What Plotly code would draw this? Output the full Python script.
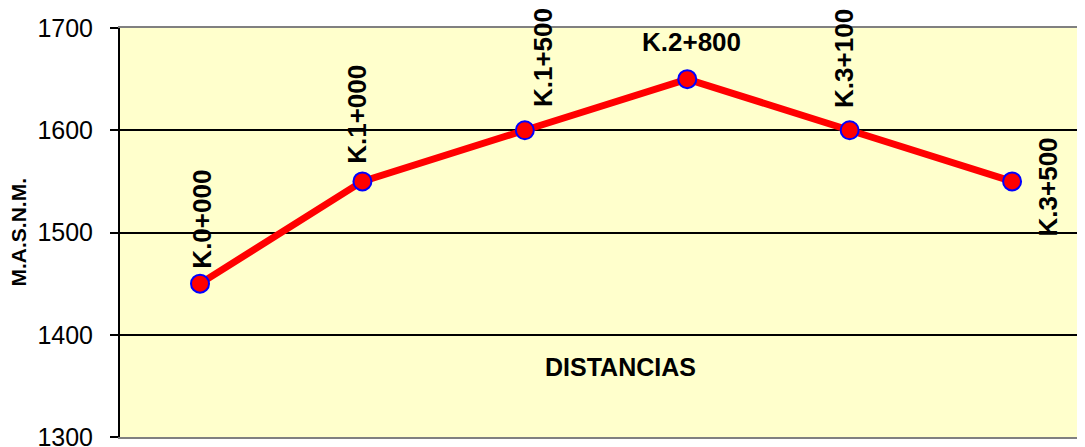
import plotly.graph_objects as go

categories = ["K.0+000", "K.1+000", "K.1+500", "K.2+800", "K.3+100", "K.3+500"]
elevations = [1450, 1550, 1600, 1650, 1600, 1550]
y_ticks = [1300, 1400, 1500, 1600, 1700]

# label placement (pixel offsets from each point, angle)
label_offsets = [(2, 64, -90), (-5, 67, -90), (18, 73, -90), (4, 37, 0), (-5, 72, -90), (36, -6, -90)]

FONT = "Arial, Liberation Sans, sans-serif"

fig = go.Figure()
fig.add_trace(go.Scatter(
    x=list(range(len(categories))), y=elevations, mode="lines+markers",
    line=dict(color="#FF0000", width=7),
    marker=dict(size=18, color="#FF0000", line=dict(color="#0000FF", width=2)),
    cliponaxis=False, showlegend=False,
))

for i, (cat, val) in enumerate(zip(categories, elevations)):
    dx, dy, ang = label_offsets[i]
    fig.add_annotation(x=i, y=val, text=cat, showarrow=False, textangle=ang,
                       xshift=dx, yshift=dy,
                       font=dict(family=FONT, size=26, color="black", weight="bold"))

fig.add_annotation(x=0.519, y=1368, xref="paper", yref="y", text="DISTANCIAS",
                   showarrow=False,
                   font=dict(family=FONT, size=25, color="black", weight="bold"))

fig.add_annotation(x=-102 / 965, y=1500, xref="paper", yref="y", text="M.A.S.N.M.",
                   showarrow=False, textangle=-90, xanchor="center",
                   font=dict(family=FONT, size=21, color="black", weight="bold"))

fig.update_xaxes(range=[-0.4926, 5.449], showticklabels=False, ticks="",
                 showgrid=False, zeroline=False, showline=True, automargin=False,
                 linecolor="#808080", linewidth=2, mirror=True)
fig.update_yaxes(range=[1300, 1700], tickvals=y_ticks, ticks="outside", ticklen=8,
                 tickcolor="black", tickwidth=2, showline=True, linecolor="black",
                 linewidth=2, showgrid=True, gridcolor="black", gridwidth=2,
                 zeroline=False, ticklabelstandoff=12, ticklabeloverflow="allow",
                 automargin=False,
                 tickfont=dict(family=FONT, size=25, color="black"))

fig.update_layout(width=1077, height=439, margin=dict(l=112, r=0, t=20, b=10, autoexpand=False),
                  plot_bgcolor="#FFFFCC", paper_bgcolor="white")

fig.write_html("out.html")
